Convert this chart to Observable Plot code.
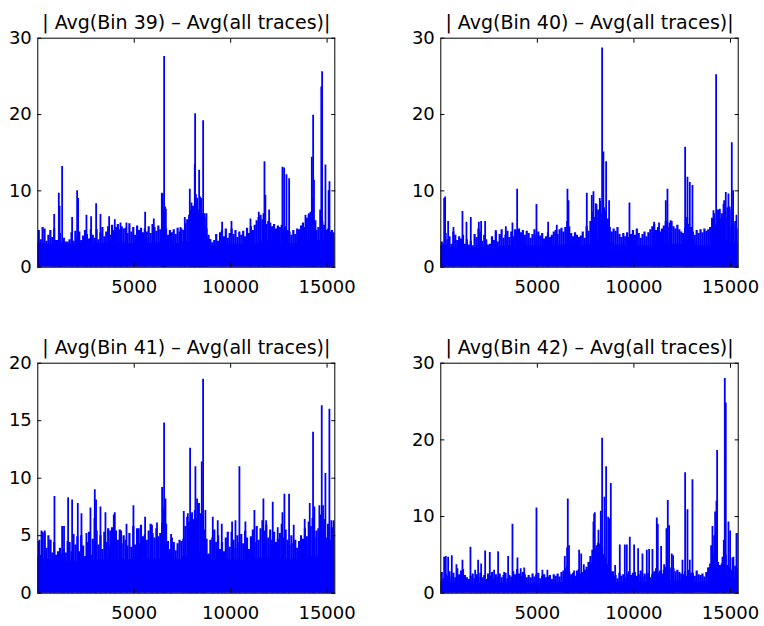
<!DOCTYPE html>
<html><head><meta charset="utf-8">
<script src="https://cdn.jsdelivr.net/npm/d3@7"></script>
<script src="https://cdn.jsdelivr.net/npm/@observablehq/plot@0.6"></script>
<style>
html,body{margin:0;padding:0;background:#fff;}
#wrap{position:relative;width:764px;height:626px;overflow:hidden;background:#fff;}
.panel{position:absolute;}
</style></head><body><div id="wrap"></div>
<script>
// sample spacing of the dense trace envelope and of the solid floor
const STEP = 100, FLOOR_STEP = 500, XMAX = 15400;
const xTicks = [5000, 10000, 15000];
const yTicks30 = [0, 10, 20, 30];
const yTicks20 = [0, 5, 10, 15, 20];
const titles = [
  "| Avg(Bin 39) \u2013 Avg(all traces)|",
  "| Avg(Bin 40) \u2013 Avg(all traces)|",
  "| Avg(Bin 41) \u2013 Avg(all traces)|",
  "| Avg(Bin 42) \u2013 Avg(all traces)|"
];

// ---- Bin 39 ----
const tops39 = [
 4.8,3.6,5.2,5.0,3.4, 4.2,4.8,3.9,5.0,3.5, 3.5,4.4,3.2,3.8,3.3, 3.3,3.6,4.5,3.4,4.7,
 3.9,4.6,3.5,4.1,4.8, 4.3,3.7,4.9,4.2,3.8, 4.9,3.6,4.5,5.2,4.0, 4.6,5.3,4.2,5.5,4.8,
 5.2,5.6,4.9,5.3,5.0, 5.1,4.4,5.7,4.6,5.2, 4.2,5.4,4.8,5.1,4.5, 5.0,4.6,5.3,4.4,5.6,
 5.2,4.7,5.4,4.9,6.0, 7.5,5.0,4.2,4.8,4.5, 4.9,4.3,5.1,4.6,5.0, 4.8,5.7,6.2,6.8,7.4,
 8.0,7.2,9.0,7.5,8.2, 7.0,6.5,5.0,4.2,3.6, 3.2,3.5,4.3,3.4,4.5, 4.8,4.0,5.0,3.8,4.4,
 5.0,4.3,4.8,3.9,4.6, 4.2,4.7,4.0,5.1,4.4, 5.3,4.8,5.5,6.1,6.5, 6.8,6.2,6.9,5.6,6.0,
 5.8,5.3,5.6,5.0,5.4, 5.2,5.5,5.0,5.3,4.8, 4.6,4.2,4.8,4.3,5.0, 4.9,5.4,5.8,5.2,6.4,
 6.8,7.2,9.0,6.0,4.8, 5.2,7.5,6.0,5.5,4.8, 5.0,4.6,4.8,4.5
];
const spikes39 = [
 [850,6.9],[1090,9.7],[1130,8.0],[1262,13.2],[1780,6.5],[2040,10.0],[2090,9.0],[2523,6.8],
 [2765,6.6],[3025,8.3],[3250,6.9],[3699,6.6],[3993,6.2],[4287,5.8],[4598,5.8],[5566,7.2],
 [6015,6.3],[6430,9.7],[6480,9.6],[6551,27.6],[6600,7.9],[6640,7.6],[7398,5.2],[7622,6.5],
 [7882,10.2],[7968,8.4],[8100,7.2],[8140,13.5],[8158,20.1],[8200,9.5],[8366,12.7],[8420,9.2],
 [8480,9.0],[8573,19.2],[8650,7.0],[8746,7.0],[9558,5.9],[10042,6.0],[11027,6.3],[11459,7.2],
 [11701,7.0],[11753,13.8],[11800,9.4],[11995,7.5],[12686,13.1],[12773,13.0],[12894,12.1],
 [13032,11.6],[13879,6.8],[14052,7.0],[14208,14.4],[14277,19.9],[14320,11.4],[14400,6.1],
 [14700,23.6],[14743,25.6],[14916,13.4],[15080,10.0],[15124,11.2]
];
const floor39 = [3.1,3.0,2.9,3.0,3.1,3.0,3.1,3.2,3.2,3.1,3.2,3.1,3.2,3.4,3.1,3.3,3.8,3.6,2.8,2.9,3.0,3.0,3.1,3.4,3.3,3.2,3.1,3.2,3.6,3.5,3.2];

// ---- Bin 40 ----
const tops40 = [
 3.3,3.0,4.4,3.6,4.0, 3.0,4.6,4.2,3.5,4.0, 3.7,4.2,3.0,3.6,2.9, 3.4,2.8,4.3,3.9,5.0,
 4.6,3.4,4.2,3.6,2.9, 3.0,4.0,3.5,4.6,3.3, 4.3,4.9,3.8,4.2,4.7, 3.9,4.6,4.0,4.9,4.8,
 5.0,4.5,4.8,4.2,4.7, 4.4,3.8,4.3,4.9,4.2, 4.6,4.1,4.4,3.7,4.0, 4.5,3.9,4.2,4.6,4.8,
 4.3,4.9,5.1,4.6,5.2, 6.0,5.3,4.4,4.0,4.5, 4.2,3.9,4.1,4.6,3.8, 5.3,4.7,6.0,7.2,6.5,
 8.2,7.5,8.6,7.0,7.8, 7.4,6.3,5.2,4.6,5.0, 4.7,5.2,4.3,3.9,4.4, 4.0,4.5,3.9,4.3,4.8,
 4.2,5.0,4.4,3.8,4.3, 4.6,4.0,4.5,4.9,5.3, 5.6,4.8,5.2,4.6,5.0, 5.4,6.0,5.2,5.8,6.0,
 5.3,5.0,5.5,4.9,4.6, 4.4,5.1,6.5,5.6,5.2, 4.6,4.2,4.8,4.4,4.9, 4.5,5.0,4.7,4.9,5.2,
 6.4,7.0,5.5,7.5,6.3, 7.0,8.2,6.5,7.8,5.2, 7.5,5.5,6.0,5.0
];
const spikes40 = [
 [173,9.0],[224,9.2],[380,6.0],[656,5.2],[1122,7.3],[1329,5.9],[1553,6.5],[1968,5.9],
 [2088,6.0],[2296,6.0],[2848,4.8],[3366,5.3],[3711,5.8],[3953,10.2],[4954,8.2],[5558,5.9],
 [6006,5.5],[6559,10.2],[6610,8.7],[7560,9.7],[7819,9.4],[7905,9.9],[8020,8.3],[8233,9.0],
 [8354,28.7],[8420,15.1],[8561,13.8],[8716,8.7],[9769,8.4],[11046,5.9],[11300,5.8],[11650,8.7],
 [11737,10.2],[11900,6.1],[12652,15.7],[12773,11.8],[12894,11.1],[13031,10.7],[14119,7.4],
 [14257,25.2],[14450,7.6],[14580,6.5],[14671,8.7],[14757,9.8],[14895,9.6],[14960,7.9],
 [15068,16.3],[15137,10.0],[15310,6.8]
];
const floor40 = [2.8,2.6,2.5,2.5,2.6,2.6,2.7,2.8,2.9,2.8,2.8,2.8,2.9,3.0,2.8,3.0,3.6,3.2,2.9,2.8,2.8,2.8,2.9,3.0,3.0,2.9,2.8,2.8,3.2,3.4,3.2];

// ---- Bin 41 ----
const tops41 = [
 4.5,3.3,5.3,5.2,3.9, 5.0,4.6,3.5,4.4,3.3, 3.6,3.9,3.4,3.8,3.5, 4.5,4.4,3.6,5.1,4.2,
 4.9,3.6,5.0,4.1,3.2, 4.4,5.3,3.3,4.7,6.5, 5.4,4.2,5.0,3.8,5.3, 4.4,5.6,4.1,5.7,6.8,
 5.4,4.6,5.5,4.3,5.0, 4.6,4.1,5.2,4.0,5.8, 4.2,5.6,4.3,5.9,4.9, 5.1,4.6,5.4,6.0,5.2,
 4.8,5.6,4.9,5.2,6.1, 7.4,6.0,4.5,3.8,4.8, 4.4,3.7,4.3,4.6,4.5, 4.7,5.8,6.6,6.2,6.8,
 6.4,7.2,6.5,7.8,6.9, 6.6,5.5,4.7,3.4,4.6, 4.8,5.5,4.4,5.0,3.8, 4.4,3.6,4.8,5.3,4.0,
 5.3,4.6,3.9,5.0,4.4, 5.1,4.3,5.4,4.8,3.8, 4.9,5.5,4.4,5.8,4.6, 5.6,6.3,5.4,5.9,4.8,
 5.5,4.6,5.3,4.4,4.7, 5.2,6.0,4.8,5.5,4.6, 4.2,5.0,4.3,4.6,3.9, 4.5,5.0,4.7,5.6,4.9,
 6.2,5.8,6.5,4.8,5.4, 5.6,6.8,5.2,6.4,4.8, 6.0,4.6,5.7,6.2
];
const spikes41 = [
 [86,4.6],[190,5.4],[363,5.4],[657,4.6],[864,8.4],[1261,5.8],[1360,5.8],[1572,8.3],[1780,8.1],
 [2074,7.8],[2264,6.9],[2520,5.2],[2730,7.4],[2955,9.0],[3020,8.1],[3249,7.5],[3508,7.0],
 [3750,5.4],[3992,7.0],[4320,5.4],[4600,6.0],[4959,7.6],[5240,5.6],[5564,6.6],[5920,5.9],
 [6180,6.1],[6445,9.2],[6549,14.8],[6620,8.2],[6912,5.1],[7569,7.1],[7780,6.9],[7897,12.6],
 [8000,7.0],[8173,11.0],[8260,8.2],[8502,11.4],[8571,18.6],[8690,7.2],[9072,6.6],[9330,6.3],
 [9540,6.0],[10075,6.2],[10250,6.3],[10454,11.0],[10765,6.2],[11232,7.2],[11698,8.2],
 [11840,6.3],[12182,7.9],[12440,5.7],[12684,7.0],[12787,8.6],[13029,8.6],[13270,5.9],
 [13840,6.4],[14101,7.8],[14273,14.0],[14340,7.5],[14600,7.6],[14723,16.3],[14790,7.6],
 [14913,10.4],[15120,16.0],[15220,6.3],[15340,6.3]
];
const floor41 = [3.0,2.9,2.7,2.8,2.8,2.8,2.9,3.0,3.0,2.9,3.0,3.0,3.0,3.2,2.9,3.2,3.6,3.3,2.9,2.9,2.9,2.9,3.0,3.1,3.0,3.0,2.9,2.9,3.2,3.3,3.2];

// ---- Bin 42 ----
const tops42 = [
 2.7,1.9,2.5,2.2,2.8, 2.1,2.6,2.0,3.2,2.4, 2.9,3.1,2.3,2.0,1.8, 2.2,2.5,1.9,2.4,2.1,
 2.6,2.0,2.3,1.8,2.5, 2.2,2.7,1.9,2.4,2.1, 2.5,2.0,2.3,2.6,1.9, 2.3,2.1,2.8,2.4,3.1,
 2.5,2.2,2.7,2.4,2.0, 2.3,2.0,2.5,2.1,2.4, 2.6,1.9,2.2,2.4,2.0, 2.1,2.3,1.8,2.4,2.2,
 2.5,2.1,2.7,2.9,3.2, 3.5,2.8,2.4,2.6,2.2, 2.9,3.1,2.5,2.7,3.0, 3.4,4.0,4.8,5.6,6.2,
 5.8,6.5,5.4,6.0,5.0, 4.6,3.8,3.0,2.4,2.1, 2.3,1.9,2.6,2.2,2.4, 2.0,2.5,2.8,2.3,2.6,
 2.7,2.2,2.4,2.9,2.1, 2.5,2.3,2.6,2.0,2.4, 2.8,3.2,2.6,2.9,2.5, 3.0,3.4,2.9,3.3,3.1,
 3.2,2.8,3.0,2.7,2.5, 2.4,2.8,2.2,3.0,2.6, 2.6,2.2,2.9,2.4,2.3, 2.5,2.1,2.7,3.3,3.8,
 4.4,5.2,4.8,4.0,3.5, 3.8,4.6,5.0,3.6,3.3, 3.0,2.7,3.5,3.2
];
const spikes42 = [
 [173,4.7],[260,4.8],[380,4.7],[570,4.9],[810,3.7],[1122,4.3],[1536,6.0],[1780,3.0],[1933,4.3],
 [2090,3.8],[2296,5.5],[2537,5.3],[2760,3.0],[2969,5.4],[3280,2.7],[3487,4.8],[3711,9.0],
 [3970,4.6],[4140,3.2],[4320,3.3],[4954,11.1],[5260,3.0],[5520,3.0],[6421,4.8],[6540,5.9],
 [6576,12.3],[6640,6.2],[6900,2.9],[7163,5.6],[7270,5.1],[7405,3.7],[7680,4.0],[7820,3.8],
 [7905,9.3],[7940,10.3],[7975,10.5],[8078,6.2],[8164,8.2],[8230,6.4],[8285,10.7],[8354,20.2],
 [8475,12.5],[8561,16.5],[8665,9.9],[8716,9.7],[8803,14.3],[9028,3.6],[9269,6.3],[9528,6.3],
 [9631,6.3],[9787,7.3],[10011,6.3],[10218,5.8],[10442,5.1],[10667,5.6],[10788,5.7],[10960,5.7],
 [11185,9.8],[11236,9.0],[11409,6.1],[11564,3.7],[11685,8.4],[11754,12.1],[11823,8.8],
 [11961,5.1],[12030,4.9],[12514,4.3],[12652,15.7],[12773,10.9],[12894,4.3],[13031,14.8],
 [13860,3.3],[13998,6.2],[14067,8.7],[14153,7.5],[14205,10.6],[14274,12.0],[14309,18.6],
 [14447,3.6],[14585,4.7],[14654,6.9],[14706,28.0],[14757,24.8],[14895,9.3],[14981,8.1],
 [15102,4.6],[15154,4.7],[15310,7.8],[15360,7.8]
];
const floor42 = [1.5,1.4,1.3,1.3,1.3,1.3,1.3,1.4,1.4,1.3,1.3,1.3,1.4,1.5,1.6,3.0,3.8,2.8,1.4,1.4,1.5,1.4,1.6,1.7,1.6,1.5,1.4,1.5,2.2,2.0,1.8];

const BLUE = "#0000ff";

function panel(cfg) {
  const {title, tops, spikes, floor, yMax, yTicks, left, top, width, height, mL, mR, mT, mB} = cfg;
  const topData = tops.map((v, i) => ({x: i * STEP + STEP / 2, y: v}));
  const floorData = floor.map((v, i) => ({x: i * FLOOR_STEP, y: v}));
  floorData.push({x: XMAX, y: floor[floor.length - 1]});
  const spikeData = spikes.map(([x, y]) => ({x, y}));
  const chart = Plot.plot({
    width, height,
    marginLeft: mL, marginRight: mR, marginTop: mT, marginBottom: mB,
    style: {fontFamily: "DejaVu Sans", fontSize: "18px", color: "black", background: "white", overflow: "visible"},
    x: {domain: [0, XMAX], label: null},
    y: {domain: [0, yMax], label: null},
    marks: [
      Plot.areaY(floorData, {x: "x", y: "y", fill: BLUE, curve: "step-after", clip: true}),
      Plot.ruleX(topData, {x: "x", y1: 0, y2: "y", stroke: BLUE, strokeWidth: 2.2, clip: true}),
      Plot.ruleX(spikeData, {x: "x", y1: 0, y2: "y", stroke: BLUE, strokeWidth: 1.8, clip: true}),
      Plot.axisX(xTicks, {anchor: "bottom", label: null, tickSize: -4, tickPadding: 17, tickFormat: "d"}),
      Plot.axisX(xTicks, {anchor: "top", label: null, tickSize: -4, tickFormat: () => ""}),
      Plot.axisY(yTicks, {anchor: "left", label: null, tickSize: -4, tickPadding: 10, tickFormat: "d"}),
      Plot.axisY(yTicks, {anchor: "right", label: null, tickSize: -4, tickFormat: () => ""}),
      Plot.frame({stroke: "black"}),
      Plot.text([title], {text: d => d, frameAnchor: "top", dy: -23, fontSize: 19, fill: "black"})
    ]
  });
  const div = document.createElement("div");
  div.className = "panel";
  div.style.left = left + "px";
  div.style.top = top + "px";
  div.appendChild(chart);
  document.getElementById("wrap").appendChild(div);
}

panel({title: titles[0], tops: tops39, spikes: spikes39, floor: floor39, yMax: 30, yTicks: yTicks30,
  left: 0, top: 0, width: 382, height: 300, mL: 37.3, mR: 47.7, mT: 37.7, mB: 33.3});
panel({title: titles[1], tops: tops40, spikes: spikes40, floor: floor40, yMax: 30, yTicks: yTicks30,
  left: 382, top: 0, width: 382, height: 300, mL: 58.3, mR: 26.3, mT: 37.7, mB: 33.3});
panel({title: titles[2], tops: tops41, spikes: spikes41, floor: floor41, yMax: 20, yTicks: yTicks20,
  left: 0, top: 300, width: 382, height: 326, mL: 37.3, mR: 47.7, mT: 62.7, mB: 33.3});
panel({title: titles[3], tops: tops42, spikes: spikes42, floor: floor42, yMax: 30, yTicks: yTicks30,
  left: 382, top: 300, width: 382, height: 326, mL: 58.3, mR: 26.3, mT: 62.7, mB: 33.3});
</script></body></html>
